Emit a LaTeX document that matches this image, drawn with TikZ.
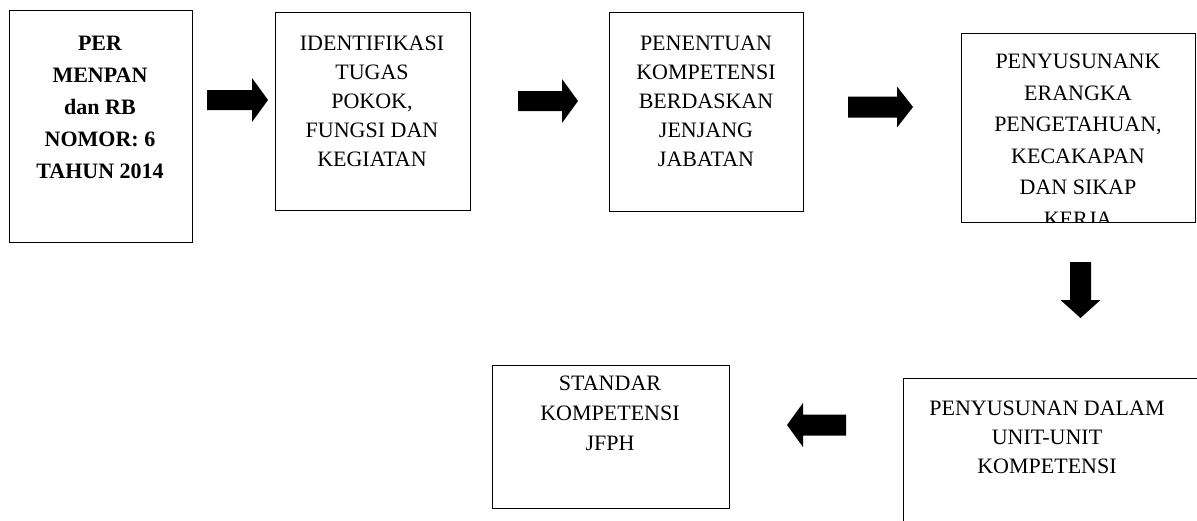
\documentclass[tikz,border=0pt]{standalone}
\usepackage{fontspec}
\setmainfont{Liberation Serif}
\newcommand\blkR[6]{\fill[black] (#1,#3-#4) -- (#2-#6,#3-#4) -- (#2-#6,#3-#5) -- (#2,#3) -- (#2-#6,#3+#5) -- (#2-#6,#3+#4) -- (#1,#3+#4) -- cycle;}
\newcommand\blkD[6]{\fill[black] (#3-#4,#1) -- (#3-#4,#2-#6) -- (#3-#5,#2-#6) -- (#3,#2) -- (#3+#5,#2-#6) -- (#3+#4,#2-#6) -- (#3+#4,#1) -- cycle;}
\begin{document}
\begin{tikzpicture}[x=1pt,y=-1pt,
  box/.style={draw=black,line width=1.3pt,inner sep=0pt,anchor=north west},
  lbl/.style={align=center,inner sep=0pt,anchor=north,font=\fontsize{22}{29}\selectfont}]
\useasboundingbox (0,0) rectangle (1197,520);
\clip (0,0) rectangle (1197,520);
\fill[white] (0,0) rectangle (1197,520);
% boxes
\node[box,minimum width=183pt,minimum height=232pt] (b1) at (9,10) {};
\node[box,minimum width=195pt,minimum height=198pt] (b2) at (275,12) {};
\node[box,minimum width=194pt,minimum height=199pt] (b3) at (609,12) {};
\node[box,minimum width=237pt,minimum height=143pt] (b5) at (492,365) {};
\node[box,minimum width=330pt,minimum height=200pt] (b6) at (903,378) {};
% texts
\node[lbl,font=\fontsize{22}{32}\selectfont\bfseries] (t1) at (100,36) {PER\\MENPAN\\dan RB\\NOMOR: 6\\TAHUN 2014};
\node[lbl] (t2) at (372,36) {IDENTIFIKASI\\TUGAS\\POKOK,\\FUNGSI DAN\\KEGIATAN};
\node[lbl] (t3) at (706,36) {PENENTUAN\\KOMPETENSI\\BERDASKAN\\JENJANG\\JABATAN};
\begin{scope}
\clip (961,33) rectangle (1195,222);
\node[lbl,font=\fontsize{22}{31.5}\selectfont] (t4) at (1078,54) {PENYUSUNANK\\ERANGKA\\PENGETAHUAN,\\KECAKAPAN\\DAN SIKAP\\KERJA};
\end{scope}
\node[box,minimum width=234pt,minimum height=189pt] (b4) at (961,33) {};
\node[lbl,font=\fontsize{22}{30}\selectfont] (t5) at (610,376) {STANDAR\\KOMPETENSI\\JFPH};
\node[lbl] (t6) at (1047,401) {PENYUSUNAN DALAM\\UNIT-UNIT\\KOMPETENSI};
% block arrows
\blkR{207}{268}{100}{10}{22}{16}
\blkR{518}{578}{101}{10}{22}{16}
\blkR{848}{913}{107}{10.5}{20.5}{16}
\blkR{846}{787}{425}{10.5}{22}{-16}
\blkD{262}{318}{1080.5}{10.5}{20}{18}
\end{tikzpicture}
\end{document}
